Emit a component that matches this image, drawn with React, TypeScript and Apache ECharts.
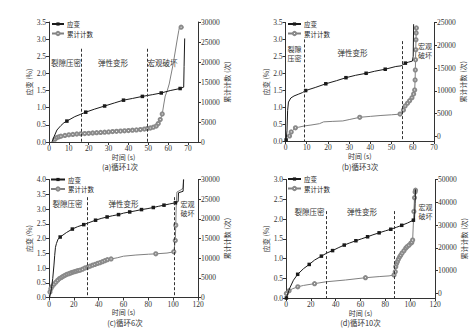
import React, { useEffect, useRef } from 'react';
import * as echarts from 'echarts';

type P = [number, number];

// ---------- (a) cycle 1 ----------
const strainLineA: P[] = [[1.5, 0], [2.5, 0.15], [4, 0.35], [6, 0.48], [7.5, 0.56], [13, 0.74], [16, 0.81], [23, 0.96], [33, 1.14], [42, 1.27], [52, 1.38], [61, 1.5], [67.8, 1.6], [68, 2.2], [68.3, 3.02]];
const strainMarkA: P[] = [[9, 0.61], [18.5, 0.87], [28, 1.05], [37.5, 1.22], [47, 1.33], [56.5, 1.43], [66, 1.56]];
const countLineA: P[] = [[2, 0], [57.8, 9500], [58.5, 11500], [59.5, 12800], [60.5, 14500], [61.5, 17000], [62.5, 19500], [63.5, 22500], [64.5, 25500], [65.3, 27800], [65.7, 28700], [67.8, 28700]];
const countMarkA: P[] = [[3, 700], [4, 1100], [5, 1300], [6, 1450], [8, 1650], [10, 1800], [12, 1900], [14, 2000], [16, 2050], [18, 2100], [20, 2180], [22, 2250], [24, 2320], [26, 2390], [28, 2460], [30, 2530], [32, 2600], [34, 2660], [36, 2720], [38, 2800], [40, 2870], [42, 2950], [44, 3030], [46, 3120], [48, 3230], [49.5, 3350], [51, 3500], [52.5, 3700], [54, 4000], [55, 4600], [56, 5600], [57, 7000], [66.5, 28700]];
const phaseA = [16, 49.5];

// ---------- (b) cycle 3 ----------
const strainLineB: P[] = [[0.7, 0.3], [1, 0.9], [1.4, 1.15], [2.5, 1.27], [4, 1.33], [6, 1.38], [8, 1.43], [14, 1.58], [24, 1.78], [33, 1.94], [42, 2.06], [52, 2.2], [54.5, 2.22], [58, 2.33], [59.8, 2.36], [60.2, 2.5], [60.4, 3.45]];
const strainMarkB: P[] = [[0.3, 0.03], [9.5, 1.49], [19, 1.69], [28.5, 1.87], [38, 2.0], [47, 2.12], [56.5, 2.3]];
const countLineB: P[] = [[0.5, 0], [6, 2000], [8.8, 2300], [12, 2500], [16, 2800], [18, 3200], [22, 3300], [27, 3400], [30, 3700], [40, 4400], [45, 4600], [50, 4750]];
const countMarkB: P[] = [[1.9, 100], [2.7, 1000], [4.7, 1900], [35, 4200], [54, 4900], [55.6, 5800], [56.4, 6700], [57.5, 7300], [58.5, 7850], [59.6, 8500], [60.4, 9300], [60.9, 10200], [61.1, 12400], [61.2, 14600], [61.3, 16800], [61.4, 19000], [61.5, 21200], [61.6, 22700], [61.7, 23800]];
const phaseB = [8.8, 55];

// ---------- (c) cycle 6 ----------
const strainLineC: P[] = [[0.5, 0], [2, 0.3], [3, 0.64], [4, 1.1], [4.6, 1.43], [5.2, 1.7], [6, 1.83], [7.3, 1.98], [14, 2.2], [23, 2.4], [33, 2.55], [42, 2.68], [51, 2.77], [60, 2.86], [70, 2.94], [79, 3.01], [88, 3.09], [97, 3.17], [104, 3.25], [104.3, 3.55], [108, 3.6], [108.3, 4.0]];
const strainMarkC: P[] = [[9, 2.05], [18.8, 2.32], [28, 2.47], [37.5, 2.62], [46.8, 2.73], [56, 2.81], [65, 2.9], [74.5, 2.98], [84, 3.05], [92.6, 3.13], [101.8, 3.21]];
const countLineC: P[] = [[0.2, 500], [55, 10100], [60, 10500], [70, 10800], [80, 11000], [95, 11300], [102.5, 24000], [103, 26800], [107, 27500], [108, 28000], [108.5, 30000]];
const countMarkC: P[] = [[0.8, 1400], [1.5, 2200], [2.5, 2800], [4, 3400], [5.5, 3900], [7, 4400], [8.5, 4800], [10, 5100], [11.5, 5400], [13, 5650], [14.5, 5900], [16, 6050], [17.5, 6250], [19, 6400], [20.5, 6550], [22, 6700], [23.5, 6850], [25, 6950], [27, 7200], [29, 7500], [31, 7700], [33, 7950], [35, 8200], [37, 8400], [39, 8650], [41, 8850], [43, 9100], [45, 9350], [47, 9600], [50, 9800], [86, 11100], [100.5, 11600], [101.7, 14500], [102.1, 18400]];
const phaseC = [31, 101];

// ---------- (d) cycle 10 ----------
const strainLineD: P[] = [[3, 0.25], [6, 0.45], [14, 0.74], [23, 0.96], [33, 1.14], [42, 1.27], [51, 1.39], [61, 1.5], [70, 1.6], [80, 1.7], [89, 1.79], [98, 1.9], [103.5, 2.0], [104, 2.4], [104.3, 2.75]];
const strainMarkD: P[] = [[0.3, 0], [9.4, 0.6], [18.7, 0.85], [28.5, 1.06], [37.5, 1.2], [46.9, 1.34], [56.3, 1.45], [65.7, 1.55], [75, 1.65], [84.4, 1.74], [93.2, 1.84], [102.6, 1.97]];
const countLineD: P[] = [[5, 2000], [14, 3500], [32, 5100], [48, 5900], [75, 7400], [83, 7700], [102.5, 30000]];
const countMarkD: P[] = [[0.3, 0], [2.5, 1200], [9.5, 2900], [23, 4300], [64, 6900], [87, 8100], [88, 9500], [88.4, 11700], [89, 13000], [89.7, 13900], [90.5, 15000], [91.5, 16000], [92.4, 16800], [93.5, 17700], [95, 18700], [96.4, 19800], [97.5, 20500], [99, 21200], [100.5, 22000], [101.3, 22400], [102, 23400], [103, 36000], [103.5, 42000], [104, 44500], [104.3, 45300]];
const phaseD = [32.2, 87];

// ---------- tick values ----------
const countTicksA = [0, 5000, 10000, 15000, 20000, 25000, 30000];
const countTicksB = [0, 5000, 10000, 15000, 20000, 25000];
const countTicksC = [0, 5000, 10000, 15000, 20000, 25000, 30000];
const countTicksD = [0, 10000, 20000, 30000, 40000, 50000];

const seriesNames = ['应变', '累计计数'];
const captions = ['(a)循环1次', '(b)循环3次', '(c)循环6次', '(d)循环10次'];

const FONT = 'Liberation Serif, Noto Sans CJK SC, serif';
const CJK = 'Noto Sans CJK SC, Liberation Serif, sans-serif';

function build(line: P[], marks: P[]) {
  const all = [...line.map((p) => ({ p, m: false })), ...marks.map((p) => ({ p, m: true }))];
  all.sort((a, b) => a.p[0] - b.p[0] || a.p[1] - b.p[1]);
  return all.map(({ p, m }) => (m ? { value: p } : { value: p, symbol: 'none' }));
}

export default function App() {
  const ref = useRef<HTMLDivElement>(null);
  useEffect(() => {
    if (!ref.current) return;
    const chart = echarts.init(ref.current, null, { renderer: 'svg' });

    const panels = [
      { grid: { left: 49, top: 22, width: 149, height: 120 }, xMax: 75, xInt: 10, yMax: 3.5, rMin: 0, rMax: 30000, rTicks: countTicksA,
        sL: strainLineA, sM: strainMarkA, cL: countLineA, cM: countMarkA, phase: phaseA, phaseTop: [2.72, 2.72], lGap: 16,
        legend: { left: 51, top: 20.5, itemWidth: 12 } },
      { grid: { left: 285.5, top: 22.5, width: 148.5, height: 118.5 }, xMax: 70, xInt: 10, yMax: 3.5, rMin: -1000, rMax: 25000, rTicks: countTicksB,
        sL: strainLineB, sM: strainMarkB, cL: countLineB, cM: countMarkB, phase: phaseB, phaseTop: [3.0, 2.95], lGap: 12,
        legend: { left: 287, top: 20.5, itemWidth: 13 } },
      { grid: { left: 49, top: 179.5, width: 149, height: 118 }, xMax: 120, xInt: 20, yMax: 4.0, rMin: 0, rMax: 30000, rTicks: countTicksC,
        sL: strainLineC, sM: strainMarkC, cL: countLineC, cM: countMarkC, phase: phaseC, phaseTop: [3.4, 3.4], lGap: 16,
        legend: { left: 50, top: 176, itemWidth: 14 } },
      { grid: { left: 286, top: 179.5, width: 149, height: 118.5 }, xMax: 120, xInt: 20, yMax: 3.0, rMin: -2000, rMax: 50000, rTicks: countTicksD,
        sL: strainLineD, sM: strainMarkD, cL: countLineD, cM: countMarkD, phase: phaseD, phaseTop: [2.2, 2.2], lGap: 13,
        legend: { left: 287, top: 175.5, itemWidth: 13 } },
    ];

    const axisLine = { lineStyle: { color: '#333', width: 1 } };
    const axisTick = { inside: false, length: 3, lineStyle: { color: '#333', width: 1 } };
    const lab = { fontSize: 7.5, fontFamily: FONT, color: '#333', margin: 3 };
    const nameStyle = { fontSize: 7, fontFamily: CJK, color: '#333' };

    const xAxis: any[] = [];
    const yAxis: any[] = [];
    const series: any[] = [];
    const legend: any[] = [];

    panels.forEach((p, i) => {
      xAxis.push({
        type: 'value', gridIndex: i, min: 0, max: p.xMax, interval: p.xInt,
        name: '时间 (s)', nameLocation: 'middle', nameGap: 8, nameTextStyle: nameStyle,
        axisLine: { ...axisLine, onZero: false }, axisTick, splitLine: { show: false },
        axisLabel: { ...lab, showMaxLabel: p.xMax % p.xInt === 0 },
      });
      yAxis.push({
        type: 'value', gridIndex: i, min: 0, max: p.yMax, interval: 0.5, position: 'left',
        name: '应变 (%)', nameLocation: 'middle', nameGap: p.lGap, nameRotate: 90, nameTextStyle: nameStyle,
        axisLine: { show: true, ...axisLine }, axisTick, splitLine: { show: false },
        axisLabel: { ...lab, formatter: (v: number) => v.toFixed(1) },
      });
      yAxis.push({
        type: 'value', gridIndex: i, min: p.rMin, max: p.rMax, position: 'right',
        name: '累计计数 (次)', nameLocation: 'middle', nameGap: 20.5, nameRotate: 90, nameTextStyle: nameStyle,
        axisLine: { show: true, ...axisLine },
        axisTick: { ...axisTick, customValues: p.rTicks },
        splitLine: { show: false },
        axisLabel: { ...lab, customValues: p.rTicks, formatter: (v: number) => String(v) },
      });
      series.push({
        name: seriesNames[0], type: 'line', xAxisIndex: i, yAxisIndex: i * 2,
        data: build(p.sL, p.sM), symbol: 'rect', symbolSize: 3.5, showAllSymbol: true,
        lineStyle: { color: '#1a1a1a', width: 1 }, itemStyle: { color: '#1a1a1a' },
        markLine: {
          silent: true, symbol: 'none', label: { show: false },
          lineStyle: { color: '#333', width: 1, type: [3, 2] },
          data: p.phase.map((t, k) => [{ coord: [t, p.phaseTop[k]] }, { coord: [t, 0] }]),
        },
        z: 3,
      });
      series.push({
        name: seriesNames[1], type: 'line', xAxisIndex: i, yAxisIndex: i * 2 + 1,
        data: build(p.cL, p.cM), symbol: 'emptyCircle', symbolSize: 3.2, showAllSymbol: true,
        lineStyle: { color: '#808080', width: 1 }, itemStyle: { color: '#8a8a8a', borderWidth: 0.6 },
        z: 2,
      });
      legend.push({
        left: p.legend.left, top: p.legend.top, orient: 'vertical', itemWidth: p.legend.itemWidth, itemHeight: 4,
        itemGap: 2.5, padding: 0, selectedMode: false, data: seriesNames,
        textStyle: { fontSize: 6.5, lineHeight: 7, fontFamily: CJK, color: '#222', padding: [0, 0, 0, -2] },
      });
    });

    const txt = (text: string, x: number, y: number, size = 7.5) => ({
      type: 'text', x, y, silent: true,
      style: { text, fontSize: size, fontFamily: CJK, fill: '#333', textAlign: 'center', align: 'center',
        textVerticalAlign: 'middle', verticalAlign: 'middle' },
    });

    const graphic = [
      txt('裂隙压密', 66, 62), txt('弹性变形', 113, 62), txt('宏观破坏', 162.5, 62),
      txt('裂隙', 294.5, 48.5, 7), txt('压密', 294.5, 57.5, 7), txt('弹性变形', 352.5, 52.7),
      txt('宏观', 425, 46, 7), txt('破坏', 425, 55, 7),
      txt('裂隙压密', 67.5, 203.5), txt('弹性变形', 123.5, 203.5), txt('宏观', 187.5, 203.5, 7), txt('破坏', 187.5, 212.5, 7),
      txt('裂隙压密', 309.5, 211.7), txt('弹性变形', 362, 211.7), txt('宏观', 425.5, 207, 7), txt('破坏', 425.5, 216, 7),
      txt(captions[0], 120, 166.5, 7.5), txt(captions[1], 360, 166.5, 7.5),
      txt(captions[2], 125, 322.5, 7.5), txt(captions[3], 360.5, 322.5, 7.5),
    ];

    chart.setOption({
      animation: false,
      backgroundColor: '#fff',
      grid: panels.map((p) => ({ ...p.grid, containLabel: false })),
      xAxis, yAxis, series, legend, graphic,
    });
    return () => chart.dispose();
  }, []);

  return <div ref={ref} style={{ position: 'fixed', left: 0, top: 0, width: 476, height: 335, background: '#fff' }} />;
}
